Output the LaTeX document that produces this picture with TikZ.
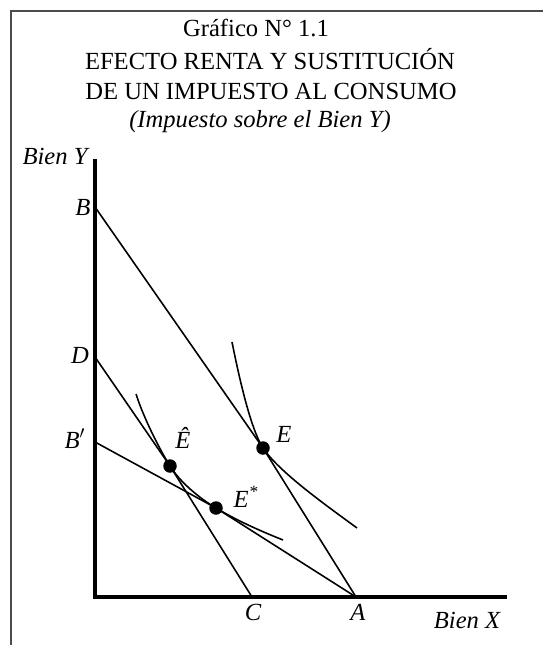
\documentclass[tikz,border=0pt]{standalone}
\usepackage{fontspec}
\setmainfont{Liberation Serif}
\usepackage{tikz}

\begin{document}
\begin{tikzpicture}[x=0.02cm,y=-0.02cm,
  axis/.style={line width=2.3pt},
  budget/.style={line width=0.9pt},
  indiff/.style={line width=0.9pt},
  dot/.style={circle,fill=black,inner sep=0pt,minimum size=0.27cm},
  ttl/.style={anchor=base,font=\fontsize{14}{16}\selectfont},
  lbl/.style={anchor=base,font=\fontsize{14}{16}\selectfont\itshape}]
  \useasboundingbox (0,0) rectangle (543,645);
  % frame
  \draw[line width=0.8pt,black!70] (11,645) -- (11,11) -- (543,11);
  \node[ttl] (t1) at (256,37) {Gráfico N° 1.1};
  \node[ttl] (t2) at (270,70) {EFECTO RENTA Y SUSTITUCIÓN};
  \node[ttl] (t3) at (271,100) {DE UN IMPUESTO AL CONSUMO};
  \node[ttl,font=\fontsize{14}{16}\selectfont\itshape] (t4) at (260,128) {(Impuesto sobre el Bien Y)};
  \coordinate (O) at (95,597);
  \coordinate (Ytop) at (95,159);
  \coordinate (Xend) at (507,597);
  \coordinate (B) at (95,207);
  \coordinate (D) at (95,357);
  \coordinate (Bp) at (95,442);
  \coordinate (C) at (252,597);
  \coordinate (A) at (356,597);
  \draw[axis] (Ytop) -- (O) -- (Xend);
  % equilibria
  \node[dot] (E) at (263,448) {};
  \node[dot] (Eh) at (170,466) {};
  \node[dot] (Es) at (216,508) {};
  % budget lines
  \draw[budget] (B) -- (E.center) -- (A);
  \draw[budget] (D) -- (Eh.center) -- (C);
  \draw[budget] (Bp) -- (Es.center) -- (A);
  % indifference curves
  \coordinate (Iup) at (232,342);
  \coordinate (Ilow) at (357,528);
  \coordinate (Jup) at (136,394);
  \coordinate (Jlow) at (283,540);
  \draw[indiff] (Iup) .. controls +(6,30) and +(-13,-20) .. (E.center)
    .. controls +(16,24) and +(-30,-22) .. (Ilow);
  \draw[indiff] (Jup) .. controls +(8,25) and +(-10,-16) .. (Eh.center)
    .. controls +(10,16) and +(-17,-10) .. (Es.center)
    .. controls +(20,12) and +(-25,-10) .. (Jlow);
  \node[lbl] (bieny) at (55,165) {Bien Y};
  \node[lbl] (bienx) at (467,628) {Bien X};
  \node[lbl] (lB) at (83,215) {B};
  \node[lbl] (lD) at (80,363) {D};
  \node[lbl] (lBp) at (75,448) {B$'$};
  \node[lbl] (lC) at (253,620) {C};
  \node[lbl] (lA) at (358,620) {A};
  \node[lbl] (lE) at (284,442) {E};
  \node[lbl] (lEh) at (183,448) {Ê};
  \node[lbl] (lEs) at (246,507) {E\textsuperscript{*}};
\end{tikzpicture}
\end{document}
